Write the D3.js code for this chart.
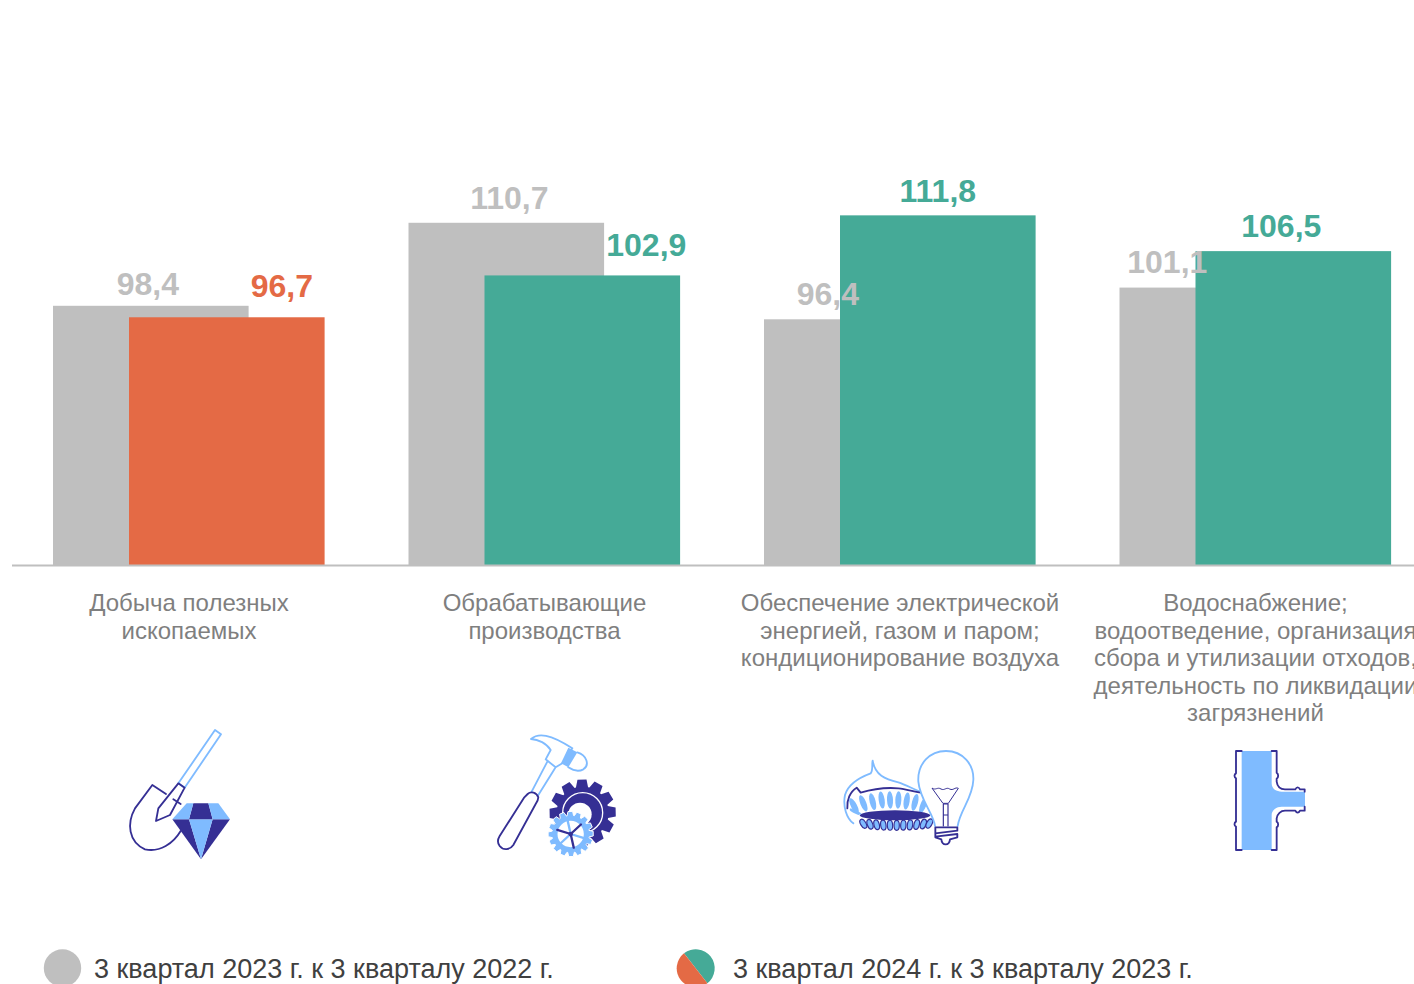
<!DOCTYPE html>
<html lang="ru"><head><meta charset="utf-8">
<script src="https://cdn.jsdelivr.net/npm/d3@7/dist/d3.min.js"></script>
<style>html,body{margin:0;padding:0;background:#fff;overflow:hidden}svg{display:block}text{font-family:"Liberation Sans",Arial,sans-serif}</style>
</head><body><div id="chart"></div>
<script>
const categories = [
  ["Добыча полезных","ископаемых"],
  ["Обрабатывающие","производства"],
  ["Обеспечение электрической","энергией, газом и паром;","кондиционирование воздуха"],
  ["Водоснабжение;","водоотведение, организация","сбора и утилизации отходов,","деятельность по ликвидации","загрязнений"]
];
const values2023 = [98.4, 110.7, 96.4, 101.1];
const values2024 = [96.7, 102.9, 111.8, 106.5];
const legendLabels = ["3 квартал 2023 г. к 3 кварталу 2022 г.","3 квартал 2024 г. к 3 кварталу 2023 г."];
// label nudges (layout only)
const nudgeGrey = [[-3,-11],[3,-14],[-34,-14],[-50,-15]];
const nudgeNew  = [[55,-20],[64,-19],[0,-13],[-12,-14]];

const GREY="#bfbfbf",TEAL="#45aa97",ORANGE="#e46a45",DARK="#352f94",LIGHT="#7fbbff";
const W=1414,H=984;
const svg=d3.select("#chart").append("svg").attr("width",W).attr("height",H).attr("viewBox",`0 0 ${W} ${H}`);
const x=d3.scaleBand().domain(d3.range(categories.length)).range([11.25,1433.25]);
const y=d3.scaleLinear().domain([60,120]).range([565,160]);
const barW=195.6, off=76;
const fmt=v=>d3.format(".1f")(v).replace(".",",");
const cx=i=>x(i)+x.bandwidth()/2;
const colorNew=(v)=>v<100?ORANGE:TEAL;

svg.selectAll("rect.a").data(values2023).join("rect").attr("class","a")
  .attr("x",(d,i)=>cx(i)-136).attr("y",d=>y(d)).attr("width",barW).attr("height",d=>y(60)-y(d)).attr("fill",GREY);
svg.selectAll("rect.b").data(values2024).join("rect").attr("class","b")
  .attr("x",(d,i)=>cx(i)-136+off).attr("y",d=>y(d)).attr("width",barW).attr("height",d=>y(60)-y(d)).attr("fill",colorNew);

svg.append("line").attr("x1",12).attr("x2",W).attr("y1",565.5).attr("y2",565.5).attr("stroke",GREY).attr("stroke-width",2);

svg.selectAll("text.la").data(values2023).join("text").attr("class","la")
  .attr("x",(d,i)=>cx(i)-136+barW/2+nudgeGrey[i][0]).attr("y",(d,i)=>y(d)+nudgeGrey[i][1])
  .attr("text-anchor","middle").attr("font-size",32).attr("font-weight","bold").attr("fill",GREY).text(fmt);
svg.selectAll("text.lb").data(values2024).join("text").attr("class","lb")
  .attr("x",(d,i)=>cx(i)-136+off+barW/2+nudgeNew[i][0]).attr("y",(d,i)=>y(d)+nudgeNew[i][1])
  .attr("text-anchor","middle").attr("font-size",32).attr("font-weight","bold").attr("fill",colorNew).text(fmt);

categories.forEach((lines,i)=>{
  const t=svg.append("text").attr("text-anchor","middle").attr("font-size",24).attr("fill","#7f7f7f");
  lines.forEach((l,j)=>t.append("tspan").attr("x",cx(i)).attr("y",611+j*27.6).text(l));
});

// legend
svg.append("circle").attr("cx",62.5).attr("cy",968).attr("r",18.7).attr("fill",GREY);
const arc=d3.arc().innerRadius(0).outerRadius(19);
const a0=-38*Math.PI/180;
const lp=svg.append("g").attr("transform","translate(695.7,968.3)");
lp.append("path").attr("d",arc({startAngle:a0,endAngle:a0+Math.PI})).attr("fill",TEAL);
lp.append("path").attr("d",arc({startAngle:a0+Math.PI,endAngle:a0+2*Math.PI})).attr("fill",ORANGE);
svg.selectAll("text.lg").data(legendLabels).join("text").attr("class","lg")
  .attr("x",(d,i)=>i?733:94).attr("y",978).attr("font-size",27).attr("fill","#404040").text(d=>d);

// icons
const icon=(tx,ty)=>svg.append("g").attr("transform",`translate(${tx},${ty}) scale(${1/3})`).attr("fill","none").attr("stroke-linejoin","round").attr("stroke-linecap","round");
const P=(g,d,o={})=>{const p=g.append("path").attr("d",d);Object.entries(o).forEach(([k,v])=>p.attr(k,v));return p;};
const dk={stroke:DARK,"stroke-width":5.5}, lt={stroke:LIGHT,"stroke-width":5.5};

// shovel + diamond
const i1=icon(110,720);
P(i1,"M315,30L333,43L224,203L205,190Z",lt);
P(i1,"M205,190L224,203L180,285L138,303L145,265Z",dk);
P(i1,"M168,222L127,195L75,265C50,310 55,365 105,388C150,398 190,370 212,333M190,238L212,252",dk);
P(i1,"M187,298L237,298L273,418Z",{fill:DARK});
P(i1,"M308,298L360,298L273,418Z",{fill:DARK});
P(i1,"M237,298L308,298L273,418Z",{fill:LIGHT});
P(i1,"M250,250L295,250L308,298L237,298Z",{fill:DARK});
P(i1,"M230,250L250,250L237,298L187,298Z",{fill:LIGHT});
P(i1,"M295,250L325,250L360,298L308,298Z",{fill:LIGHT});

// hammer + gears
function gear(cx0,cy0,rO,rI,n){
  const pts=[],s=2*Math.PI/n;
  for(let k=0;k<n;k++){const a=k*s;
    [[rI,-.5],[rO,-.3],[rO,.22],[rI,.4]].forEach(([r,f])=>pts.push([cx0+r*Math.sin(a+f*s),cy0-r*Math.cos(a+f*s)]));
  }
  return "M"+pts.map(p=>p.join(",")).join("L")+"Z";
}
const i2=icon(485,720);
P(i2,"M140,215L187,125M160,225L210,145",lt);
P(i2,"M138,57C160,38 195,42 262,85L232,130L212,142L182,118L197,90C185,70 160,58 138,57Z",lt);
P(i2,"M250,83L277,97L250,142L228,130Z",{fill:LIGHT});
P(i2,"M277,97C305,105 315,135 295,148C280,156 262,150 250,142",lt);
P(i2,"M128,222C138,212 155,218 160,232C160,240 156,246 152,252L85,375C75,390 55,392 44,378C36,368 38,358 44,348L118,232Z",dk);
P(i2,gear(293,278,100,78,12),{fill:DARK});
i2.append("circle").attr("cx",293).attr("cy",278).attr("r",60).attr("stroke","#fff").attr("stroke-width",4);
i2.append("circle").attr("cx",285).attr("cy",283).attr("r",35).attr("fill","#fff");
P(i2,gear(257,342,68,56,16),{fill:LIGHT,stroke:"#fff","stroke-width":3});
i2.append("circle").attr("cx",257).attr("cy",342).attr("r",43).attr("fill","#fff");
i2.append("circle").attr("cx",257).attr("cy",342).attr("r",43).attr("stroke",LIGHT).attr("stroke-width",7);
d3.range(6).forEach(k=>{const a=k*Math.PI/3+.3;
  i2.append("line").attr("x1",257).attr("y1",342).attr("x2",257+42*Math.cos(a)).attr("y2",342+42*Math.sin(a)).attr("stroke",k%2?DARK:LIGHT).attr("stroke-width",7);});
i2.append("circle").attr("cx",257).attr("cy",342).attr("r",7).attr("fill",DARK);

// burner + bulb
const i3=icon(830,740);
P(i3,"M70,250C50,235 38,200 45,165C55,130 95,110 122,100C130,90 125,70 128,62C135,105 165,118 205,127C230,135 250,148 272,155",lt);
P(i3,"M52,205C50,180 60,155 80,143L92,158C125,148 170,142 205,145C230,148 250,155 272,158",dk);
[[72,198,-28],[100,190,-22],[128,185,-14],[155,180,-8],[180,180,-3],[205,180,3],[230,183,8],[255,187,14],[280,195,22]].forEach(([fx,fy,r])=>{
  i3.append("ellipse").attr("cx",fx).attr("cy",fy).attr("rx",9).attr("ry",26).attr("fill",LIGHT).attr("transform",`rotate(${r} ${fx} ${fy})`);
});
i3.append("ellipse").attr("cx",195).attr("cy",226).attr("rx",106).attr("ry",15).attr("fill",DARK);
[[100,-30],[120,-20],[140,-14],[160,-8],[180,-3],[200,0],[220,3],[240,8],[260,14],[280,20],[298,28]].forEach(([fx,r],k)=>{
  const fy=252+6*Math.cos((fx-195)/105*1.5)-2;
  i3.append("ellipse").attr("cx",fx).attr("cy",fy).attr("rx",8).attr("ry",15).attr("fill",LIGHT).attr("stroke",DARK).attr("stroke-width",3.5).attr("transform",`rotate(${r} ${fx} ${fy})`);
});
P(i3,"M85,225C60,215 55,210 62,205C80,215 90,215 95,222Z",{fill:LIGHT});
P(i3,"M315,258C310,220 270,180 265,125C262,70 300,33 348,33C400,33 432,75 430,120C428,175 390,210 383,258",{stroke:LIGHT,"stroke-width":5.5,fill:"#fff"});
P(i3,"M307,145C318,152 322,140 333,147C344,153 348,140 359,147C370,153 375,140 385,145L355,190H340Z",{stroke:DARK,"stroke-width":3});
P(i3,"M340,192H354V225H340ZM340,225V258M354,225V258",{stroke:DARK,"stroke-width":3.5});
P(i3,"M316,262H382V272L316,280V290L382,282V292L360,298C358,318 336,318 334,298L316,292Z",dk);

// pipe tee
const i4=icon(1220,740);
P(i4,"M65,33H155V130C155,148 170,155 185,155H255V200H185C170,200 155,210 155,225V330H65Z",{fill:LIGHT});
P(i4,"M65,33H48V100C42,103 42,112 48,115V245C42,248 42,258 48,260V330H65",dk);
P(i4,"M155,33H170V98C176,102 176,112 170,116V125C172,140 182,148 195,148H226C230,140 236,140 240,148H254V155",dk);
P(i4,"M155,330H170V262C176,258 176,248 170,245V235C172,222 182,212 195,212H226C230,220 236,220 240,212H254V200",dk);
</script></body></html>
